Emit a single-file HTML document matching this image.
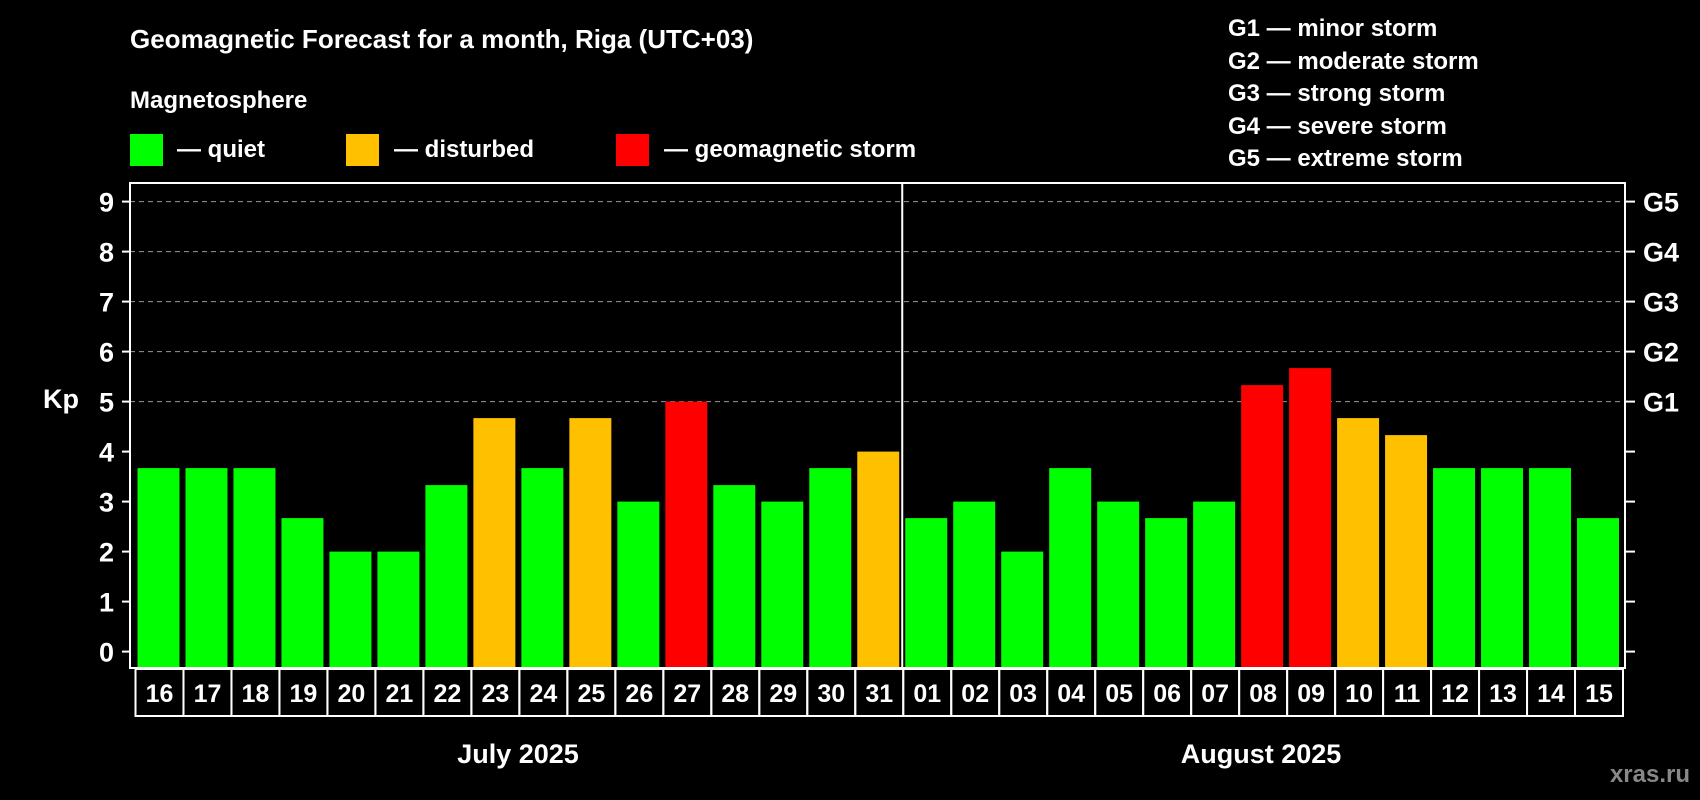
<!DOCTYPE html>
<html><head><meta charset="utf-8"><style>
html,body{margin:0;padding:0;background:#000;width:1700px;height:800px;overflow:hidden}
svg{display:block;font-family:"Liberation Sans",Arial,sans-serif;font-weight:bold}
</style></head><body>
<svg id="chart" width="1700" height="800" viewBox="0 0 1700 800">
<text x="130" y="48" fill="#fff" font-size="26">Geomagnetic Forecast for a month, Riga (UTC+03)</text>
<text x="130" y="108" fill="#fff" font-size="24">Magnetosphere</text>
<g><rect x="130" y="134" width="33" height="32" fill="#00ff00"/><text x="177" y="157" fill="#fff" font-size="24">— quiet</text></g>
<g><rect x="346" y="134" width="33" height="32" fill="#ffc000"/><text x="394" y="157" fill="#fff" font-size="24">— disturbed</text></g>
<g><rect x="616" y="134" width="33" height="32" fill="#ff0000"/><text x="664" y="157" fill="#fff" font-size="24">— geomagnetic storm</text></g>
<g fill="#fff" font-size="24">
<text x="1228" y="36">G1 — minor storm</text>
<text x="1228" y="69">G2 — moderate storm</text>
<text x="1228" y="101">G3 — strong storm</text>
<text x="1228" y="134">G4 — severe storm</text>
<text x="1228" y="166">G5 — extreme storm</text>
</g>
<text x="43" y="408" fill="#fff" font-size="27">Kp</text>
<text x="518" y="763" fill="#fff" font-size="27" text-anchor="middle">July 2025</text>
<text x="1261" y="763" fill="#fff" font-size="27" text-anchor="middle">August 2025</text>
<text x="1690" y="782" fill="#888" font-size="24" text-anchor="end">xras.ru</text>
<g id="plot"></g>
</svg>
<script>
const days=["16","17","18","19","20","21","22","23","24","25","26","27","28","29","30","31","01","02","03","04","05","06","07","08","09","10","11","12","13","14","15"];
const kp=[3.67,3.67,3.67,2.67,2,2,3.33,4.67,3.67,4.67,3,5,3.33,3,3.67,4,2.67,3,2,3.67,3,2.67,3,5.33,5.67,4.67,4.33,3.67,3.67,3.67,2.67];
const yTicks=[0,1,2,3,4,5,6,7,8,9];
const gLabels=["G1","G2","G3","G4","G5"];
const NS="http://www.w3.org/2000/svg";
const g=document.getElementById('plot');
const L=130,R=1625,T=183,B=668,slotL=135.5,slot=(R-2-slotL)/days.length;
const y=v=>651.6-v*50;
const x=i=>slotL+i*slot;
function mk(t,a){const e=document.createElementNS(NS,t);for(const k in a)e.setAttribute(k,a[k]);g.appendChild(e);return e;}
yTicks.forEach(v=>{
 if(v>=5){const l=mk('line',{x1:L,x2:R,y1:y(v),y2:y(v),stroke:'#999','stroke-dasharray':'5,4','stroke-width':1});
 
 }
 mk('line',{x1:L-8,x2:L,y1:y(v),y2:y(v),stroke:'#fff','stroke-width':2});
 mk('line',{x1:R,x2:R+10,y1:y(v),y2:y(v),stroke:'#fff','stroke-width':2});
 const t=mk('text',{x:L-16,y:y(v)+10,fill:'#fff','font-size':27,'text-anchor':'end'});t.textContent=v;
 
 
});
gLabels.forEach((s,i)=>{const t=mk('text',{x:1643,y:y(5+i)+10,fill:'#fff','font-size':27});t.textContent=s;
 
 });
kp.forEach((v,i)=>{
 const c=v>=5?'#ff0000':(v>=4?'#ffc000':'#00ff00');
 const r=mk('rect',{x:x(i)+2,y:y(v),width:slot-6,height:B-y(v),fill:c});
 
 
 const bx=mk('rect',{x:x(i),y:B+1,width:slot,height:47,fill:'none',stroke:'#fff','stroke-width':2});
 
 
 const t=mk('text',{x:x(i)+slot/2,y:B+34,fill:'#fff','font-size':25,'text-anchor':'middle'});t.textContent=days[i];
 
 
});
const fr=mk('rect',{x:L,y:T,width:R-L,height:B-T,fill:'none',stroke:'#fff','stroke-width':2});


const dv=mk('line',{x1:x(16)-1,x2:x(16)-1,y1:T,y2:B,stroke:'#fff','stroke-width':2});


</script>
</body></html>
